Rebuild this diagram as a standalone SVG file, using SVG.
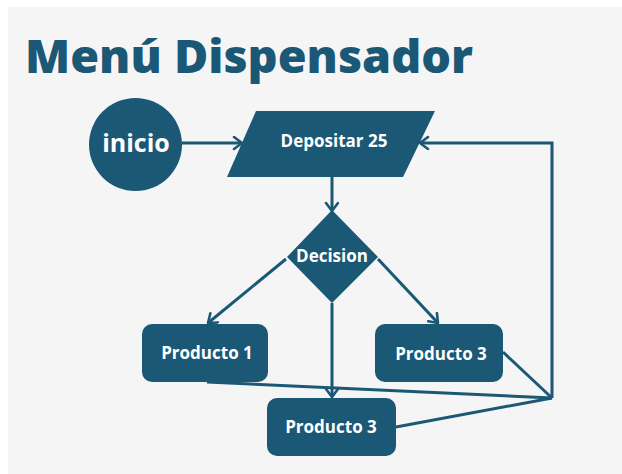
<svg xmlns="http://www.w3.org/2000/svg" width="622" height="474" viewBox="0 0 622 474">
  <style>
    .shape { fill: #1a5876; }
    .lbl { fill: #ffffff; font-family: "Open Sans", "Noto Sans", "Liberation Sans", sans-serif; font-weight: 700; text-anchor: middle; }
    .conn { fill: none; stroke: #1a5876; stroke-width: 3; stroke-linejoin: miter; }
    .title { fill: #1a5876; font-family: "Open Sans", "Noto Sans", "Liberation Sans", sans-serif; font-weight: 800; }
  </style>
  <defs>
    <marker id="arrow" markerUnits="userSpaceOnUse" markerWidth="14" markerHeight="16" refX="10" refY="7" orient="auto">
      <path d="M2,1 L10,7 L2,13" fill="none" stroke="#1a5876" stroke-width="2.6" stroke-linecap="round" stroke-linejoin="round"/>
    </marker>
  </defs>
  <rect x="0" y="0" width="622" height="474" fill="#ffffff"/>
  <rect x="8" y="7" width="614" height="467" fill="#f5f5f5"/>
  <text class="title" x="25" y="73" font-size="46" textLength="448" lengthAdjust="spacingAndGlyphs">Menú Dispensador</text>

  <g id="connectors">
    <line class="conn" x1="182" y1="143" x2="242" y2="143" marker-end="url(#arrow)"/>
    <line class="conn" x1="332" y1="177" x2="332" y2="211" marker-end="url(#arrow)"/>
    <line class="conn" x1="286" y1="259" x2="208" y2="323" marker-end="url(#arrow)"/>
    <line class="conn" x1="378" y1="259" x2="438" y2="323" marker-end="url(#arrow)"/>
    <line class="conn" x1="332" y1="303" x2="332" y2="397" marker-end="url(#arrow)"/>
    <line class="conn" x1="207" y1="382" x2="552" y2="398"/>
    <line class="conn" x1="396" y1="427" x2="552" y2="398"/>
    <line class="conn" x1="503" y1="352" x2="552" y2="398"/>
    <polyline class="conn" points="552,398 552,143 420,143" marker-end="url(#arrow)"/>
  </g>

  <g id="inicio">
    <circle class="shape" cx="135.5" cy="144.5" r="46.5"/>
    <text class="lbl" x="136" y="152" font-size="25">inicio</text>
  </g>
  <g id="depositar">
    <polygon class="shape" points="256,111 435,111 403,177 227,177"/>
    <text class="lbl" x="334" y="147" font-size="17">Depositar 25</text>
  </g>
  <g id="decision">
    <polygon class="shape" points="332,210 378,257 332,303 287,257"/>
    <text class="lbl" x="332" y="262" font-size="17">Decision</text>
  </g>
  <g id="producto1">
    <rect class="shape" x="142" y="324" width="126" height="58" rx="10"/>
    <text class="lbl" x="207" y="359" font-size="17">Producto 1</text>
  </g>
  <g id="producto3-right">
    <rect class="shape" x="375" y="324" width="128" height="58" rx="10"/>
    <text class="lbl" x="441" y="360" font-size="17">Producto 3</text>
  </g>
  <g id="producto3-bottom">
    <rect class="shape" x="267" y="398" width="129" height="58" rx="10"/>
    <text class="lbl" x="331" y="433" font-size="17">Producto 3</text>
  </g>
</svg>
